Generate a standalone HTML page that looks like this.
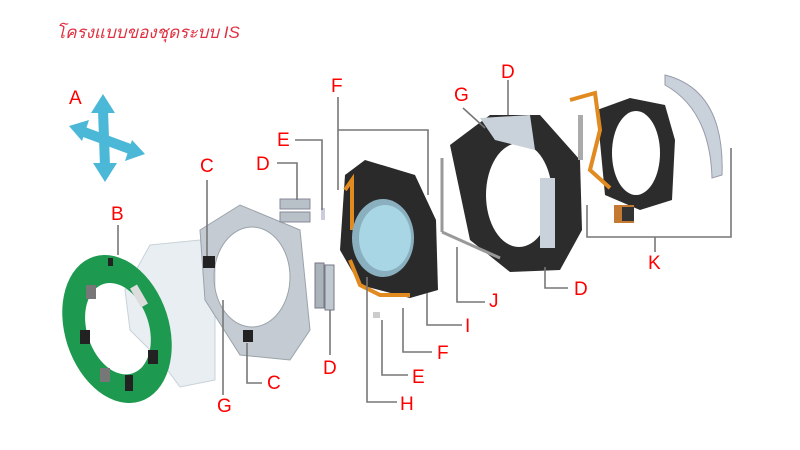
<!DOCTYPE html>
<html><head><meta charset="utf-8"><style>
html,body{margin:0;padding:0;background:#fff;width:800px;height:450px;overflow:hidden}
svg{display:block}
.l{font-family:"Liberation Sans",sans-serif;font-size:19px;fill:#f00}
.ln{stroke:#777;stroke-width:1.6;fill:none}
</style></head><body>
<svg width="800" height="450" viewBox="0 0 800 450">
<text x="56" y="38" style="font-family:'Liberation Sans','DejaVu Sans',sans-serif;font-size:17px;font-style:italic;fill:#e03040">โครงแบบของชุดระบบ IS</text>
<!-- arrows A -->
<g stroke="#4bb8d8" stroke-width="10" fill="none">
<line x1="103" y1="110" x2="105" y2="166"/>
<line x1="84" y1="132" x2="130" y2="149"/>
</g>
<g fill="#4bb8d8">
<polygon points="103,94 91,113 115,113"/>
<polygon points="105,182 93,163 117,163"/>
<polygon points="69,126 89,120 82,141"/>
<polygon points="145,154 125,161 132,140"/>
</g>
<!-- white plate -->
<path d="M150,245 L200,240 L215,260 L215,380 L180,387 L160,360 L130,330 L125,290 Z" fill="#e8eef2" stroke="#c8d2d8"/>
<!-- PCB -->
<g transform="rotate(-18 117 329)">
<path fill-rule="evenodd" fill="#1e9a50" d="M65,329 a52,76 0 1,0 104,0 a52,76 0 1,0 -104,0 Z M87,329 a31,47 0 1,0 62,0 a31,47 0 1,0 -62,0 Z"/>
</g>
<rect x="86" y="285" width="10" height="14" fill="#777"/><rect x="80" y="330" width="10" height="14" fill="#222"/>
<rect x="100" y="368" width="10" height="14" fill="#777"/><rect x="125" y="375" width="8" height="16" fill="#222"/>
<rect x="148" y="350" width="10" height="14" fill="#222"/><rect x="135" y="285" width="8" height="22" fill="#ddd" transform="rotate(-30 139 296)"/>
<rect x="108" y="258" width="5" height="8" fill="#222"/>
<!-- metal ring -->
<path fill-rule="evenodd" fill="#c4cbd2" stroke="#9aa3ab" d="M200,230 L240,205 L300,230 L310,330 L290,360 L240,355 L205,300 Z M252,277 m-38,0 a38,50 0 1,0 76,0 a38,50 0 1,0 -76,0 Z"/>
<rect x="203" y="256" width="12" height="12" fill="#222"/><rect x="243" y="330" width="10" height="12" fill="#222"/>
<!-- D blocks -->
<rect x="280" y="199" width="30" height="10" fill="#b8c0c8" stroke="#889"/><rect x="280" y="212" width="30" height="10" fill="#b8c0c8" stroke="#889"/>
<rect x="315" y="263" width="9" height="45" fill="#aab2ba" stroke="#778"/><rect x="325" y="265" width="9" height="45" fill="#c0c8d0" stroke="#778"/>
<rect x="321" y="208" width="4" height="12" fill="#ccd"/>
<!-- lens unit -->
<path d="M345,175 L365,160 L415,175 L436,220 L438,290 L410,298 L360,285 L340,250 Z" fill="#2a2a2a"/>
<path d="M345,190 L352,180 L352,230 M350,260 L360,285 L380,295 L410,295" stroke="#e08a20" stroke-width="4" fill="none"/>
<ellipse cx="383" cy="238" rx="31" ry="39" fill="#8ab0c0"/>
<ellipse cx="385" cy="238" rx="26" ry="33" fill="#a8d6e4"/>
<rect x="373" y="312" width="7" height="6" fill="#ccc"/>
<!-- black ring -->
<path fill-rule="evenodd" fill="#2c2c2c" d="M450,145 L490,115 L540,115 L580,160 L582,230 L560,270 L510,272 L470,240 Z M519,195 m-33,0 a33,52 0 1,0 66,0 a33,52 0 1,0 -66,0 Z"/>
<path d="M480,118 L530,115 L535,150 L495,140 Z" fill="#c9d2da"/>
<rect x="540" y="178" width="15" height="70" fill="#c9d2da"/>
<line x1="442" y1="158" x2="442" y2="232" stroke="#999" stroke-width="3"/><line x1="442" y1="232" x2="500" y2="258" stroke="#999" stroke-width="3"/>
<!-- right ring -->
<path fill-rule="evenodd" fill="#2c2c2c" d="M597,110 L630,98 L665,105 L675,140 L672,200 L640,210 L605,195 Z M636,153 m-24,0 a24,42 0 1,0 48,0 a24,42 0 1,0 -48,0 Z"/>
<path d="M570,100 L595,93 L600,130 L590,170 L610,188" stroke="#e08a20" stroke-width="4" fill="none"/>
<rect x="578" y="115" width="5" height="45" fill="#aaa"/>
<path d="M665,75 Q725,90 722,175 L712,178 Q710,110 665,85 Z" fill="#c9d2da" stroke="#99a"/>
<rect x="614" y="205" width="20" height="18" fill="#c47a30"/><rect x="622" y="207" width="12" height="14" fill="#333"/>
<!-- leader lines -->
<path class="ln" d="M118,225 V255 M207,180 V256 M277,163 H297 V200 M295,140 H322 V210 M338,97 V190 M338,130 H428 V195 M247,343 V383 H262 M223,300 V395 M330,310 V355 M463,108 L485,128 M508,80 V115 M457,247 V302 H485 M545,267 V288 H568 M427,293 V325 H462 M403,308 V352 H432 M382,320 V375 H408 M367,277 V402 H397 M587,205 V237 H731 V148 M655,237 V252"/>
<!-- labels -->
<text class="l" x="69" y="104">A</text><text class="l" x="111" y="220">B</text>
<text class="l" x="200" y="172">C</text><text class="l" x="256" y="170">D</text>
<text class="l" x="277" y="146">E</text><text class="l" x="331" y="92">F</text>
<text class="l" x="267" y="389">C</text><text class="l" x="217" y="412">G</text>
<text class="l" x="323" y="374">D</text><text class="l" x="412" y="383">E</text>
<text class="l" x="437" y="359">F</text><text class="l" x="400" y="410">H</text>
<text class="l" x="465" y="332">I</text><text class="l" x="489" y="307">J</text>
<text class="l" x="454" y="101">G</text><text class="l" x="501" y="78">D</text>
<text class="l" x="574" y="295">D</text><text class="l" x="648" y="269">K</text>
</svg>
</body></html>
